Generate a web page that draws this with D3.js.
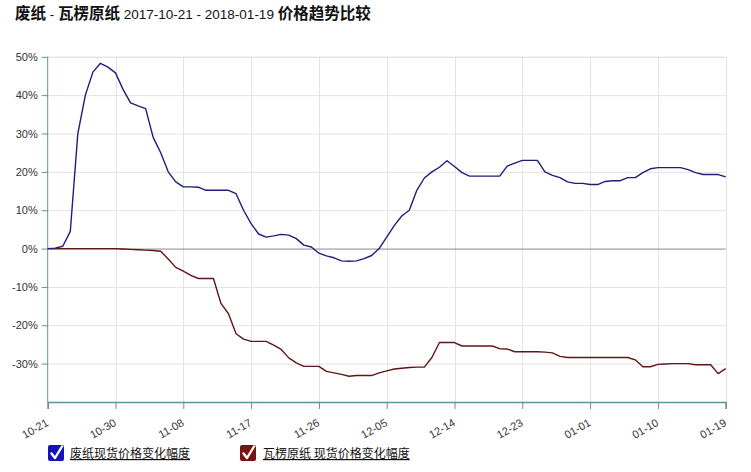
<!DOCTYPE html>
<html>
<head>
<meta charset="utf-8">
<script src="https://cdn.jsdelivr.net/npm/d3@7/dist/d3.min.js"></script>
<style>
  html, body { margin: 0; padding: 0; background: #fff; }
  svg { display: block; font-family: "Liberation Sans", Arial, "Noto Sans CJK SC", sans-serif; }
</style>
</head>
<body>
<svg id="chart" width="751" height="472"></svg>
<script>
// ---- data ----
const titleParts = [
  { t: "废纸", bold: true },
  { t: " - ", bold: false },
  { t: "瓦楞原纸", bold: true },
  { t: " 2017-10-21 - 2018-01-19 ", bold: false },
  { t: "价格趋势比较", bold: true }
];
const tickDays = [0, 9, 18, 27, 36, 45, 54, 63, 72, 81, 90];
const tickLabels = ["10-21", "10-30", "11-08", "11-17", "11-26", "12-05", "12-14", "12-23", "01-01", "01-10", "01-19"];
const yTicks = [-30, -20, -10, 0, 10, 20, 30, 40, 50];
const seriesNames = ["废纸现货价格变化幅度", "瓦楞原纸 现货价格变化幅度"];
// daily change (%) from 2017-10-21, one value per day (index = day)
const wasteValues = [
  0, 0.1, 0.6, 4.5, 30, 40, 46, 48.3, 47.3, 45.8,
  41.5, 38, 37.2, 36.5, 29, 25, 20, 17.4, 16.1, 16.1,
  16, 15.2, 15.2, 15.2, 15.2, 14.3, 10, 6.5, 3.8, 3,
  3.3, 3.7, 3.5, 2.6, 0.9, 0.4, -1.2, -1.9, -2.4, -3.2,
  -3.3, -3.2, -2.6, -1.8, 0, 3, 6, 8.5, 10, 15.2,
  18.4, 20, 21.2, 22.9, 21.4, 19.8, 18.9, 18.9, 18.9, 18.9,
  18.9, 21.5, 22.3, 23, 23, 23, 20, 19.1, 18.5, 17.4,
  17, 17, 16.7, 16.7, 17.5, 17.7, 17.7, 18.5, 18.5, 19.8,
  20.8, 21.1, 21.1, 21.1, 21.1, 20.6, 19.8, 19.3, 19.3, 19.3,
  18.7
];
const paperValues = [
  0, 0, 0, 0, 0, 0, 0, 0, 0, 0,
  -0.1, -0.2, -0.3, -0.4, -0.5, -0.7, -2.7, -4.9, -5.9, -7,
  -7.8, -7.8, -7.8, -14.3, -17, -22.2, -23.6, -24.2, -24.2, -24.2,
  -25.2, -26.3, -28.5, -29.8, -30.7, -30.7, -30.7, -32, -32.4, -32.8,
  -33.3, -33.1, -33.1, -33.1, -32.4, -31.9, -31.4, -31.2, -31, -30.9,
  -30.9, -28.4, -24.5, -24.5, -24.5, -25.4, -25.4, -25.4, -25.4, -25.4,
  -26.1, -26.2, -26.9, -26.9, -26.9, -26.9, -27, -27.2, -28.1, -28.4,
  -28.4, -28.4, -28.4, -28.4, -28.4, -28.4, -28.4, -28.4, -29, -30.8,
  -30.8, -30.2, -30.1, -30, -30, -30, -30.3, -30.3, -30.3, -32.6,
  -31.3
];
const seriesColors = ["#1c1f78", "#641414"];
const legendColors = ["#1414b4", "#7a1212"];

// ---- layout ----
const svg = d3.select("#chart");
const m = { left: 47.7, right: 725.7, top: 56.8, bottom: 402 };
const x = d3.scaleLinear().domain([0, 90]).range([m.left, m.right]);
const y = d3.scaleLinear().domain([-40, 50]).range([m.bottom, m.top]);

svg.append("rect").attr("width", 751).attr("height", 472).attr("fill", "#fff");

// title
const title = svg.append("text").attr("x", 15).attr("y", 19).attr("fill", "#111");
titleParts.forEach(p => {
  title.append("tspan")
    .attr("font-family", p.bold ? "'Noto Sans CJK SC', sans-serif" : "'Liberation Sans', Arial, sans-serif")
    .attr("font-weight", p.bold ? "bold" : "normal")
    .attr("font-size", p.bold ? 15.5 : 13.5)
    .attr("xml:space", "preserve")
    .style("white-space", "pre")
    .text(p.t);
});

// grid
const grid = svg.append("g");
grid.selectAll("line.h").data(yTicks.filter(v => v !== 0).concat([50])).join("line")
  .attr("x1", m.left).attr("x2", m.right)
  .attr("y1", d => y(d) + 0.5).attr("y2", d => y(d) + 0.5)
  .attr("stroke", "#e2e2e2").attr("stroke-width", 1);
grid.selectAll("line.v").data(tickDays.slice(1)).join("line")
  .attr("x1", d => Math.round(x(d)) + 0.5).attr("x2", d => Math.round(x(d)) + 0.5)
  .attr("y1", m.top).attr("y2", m.bottom)
  .attr("stroke", "#dfe3ea").attr("stroke-width", 1);
// zero line
grid.append("line")
  .attr("x1", m.left).attr("x2", m.right)
  .attr("y1", y(0) + 0.5).attr("y2", y(0) + 0.5)
  .attr("stroke", "#8a8a8a").attr("stroke-width", 1);

// axes
const axisColor = "#5a939c";
const yAxis = svg.append("g").attr("transform", `translate(${m.left},0)`)
  .call(d3.axisLeft(y).tickValues(yTicks.concat([50]).filter((v, i, a) => a.indexOf(v) === i)).tickSize(6).tickPadding(4).tickFormat(d => d + "%"));
yAxis.select(".domain").attr("d", `M0,${m.top}V${m.bottom}`).attr("stroke", axisColor);
yAxis.selectAll(".tick line").attr("stroke", axisColor);
yAxis.selectAll(".tick text").attr("fill", "#333").attr("font-size", 11)
  .attr("font-family", "'Liberation Sans', Arial, sans-serif");

const xAxis = svg.append("g").attr("transform", `translate(0,${m.bottom})`)
  .call(d3.axisBottom(x).tickValues(tickDays).tickSize(7).tickFormat((d, i) => tickLabels[i]));
xAxis.select(".domain").attr("stroke", axisColor).attr("stroke-width", 1.5);
xAxis.selectAll(".tick line").attr("stroke", axisColor);
xAxis.selectAll(".tick text")
  .attr("fill", "#333").attr("font-size", 11)
  .attr("font-family", "'Liberation Sans', Arial, sans-serif")
  .attr("text-anchor", "end")
  .attr("dy", 0).attr("y", 0)
  .attr("transform", "translate(1,23) rotate(-30)");

// lines
const line = d3.line().x((d, i) => x(i)).y(d => y(d));
[paperValues, wasteValues].forEach((vals, k) => {
  const idx = k === 0 ? 1 : 0;
  svg.append("path").datum(vals)
    .attr("fill", "none")
    .attr("stroke", seriesColors[idx])
    .attr("stroke-width", 1.4)
    .attr("stroke-linejoin", "round")
    .attr("d", line);
});

// legend
const legendX = [48, 240];
seriesNames.forEach((name, i) => {
  const g = svg.append("g").attr("transform", `translate(${legendX[i]},445)`);
  g.append("rect").attr("width", 16).attr("height", 16).attr("rx", 2)
    .attr("fill", legendColors[i]);
  g.append("path").attr("d", "M3.5,8.5 L7,13 L14,1.5")
    .attr("fill", "none").attr("stroke", "#fff").attr("stroke-width", 2.4)
    .attr("stroke-linecap", "round").attr("stroke-linejoin", "round");
  g.append("text").attr("x", i === 0 ? 22 : 23).attr("y", 13)
    .attr("font-size", 12).attr("fill", "#111")
    .attr("font-family", "'Noto Sans CJK SC', sans-serif")
    .attr("text-decoration", "underline")
    .style("white-space", "pre")
    .text(name);
});
</script>
</body>
</html>
